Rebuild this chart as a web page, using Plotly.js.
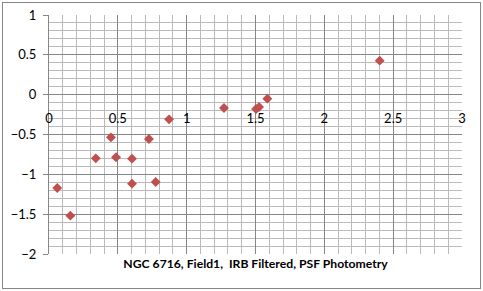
<!DOCTYPE html>
<html>
<head>
<meta charset="utf-8">
<script src="https://cdn.plot.ly/plotly-3.0.1.min.js"></script>
<style>
html,body{margin:0;padding:0;background:#fff;}
#wrap{position:relative;width:483px;height:291px;}
#chart{position:absolute;left:0;top:0;width:483px;height:291px;}
#frame{position:absolute;left:2px;top:2px;width:477px;height:285px;border:1px solid #868686;pointer-events:none;}
</style>
</head>
<body>
<div id="wrap"><div id="chart"></div><div id="frame"></div></div>
<script>
const xVals = [0.06, 0.155, 0.34, 0.45, 0.487, 0.603, 0.603, 0.726, 0.775, 0.872, 1.271, 1.504, 1.526, 1.586, 2.402];
const yVals = [-1.171, -1.519, -0.799, -0.536, -0.786, -0.803, -1.117, -0.557, -1.096, -0.31, -0.167, -0.18, -0.155, -0.05, 0.427];
const titleText = 'NGC 6716, Field1,  IRB Filtered, PSF Photometry';

const fnt = 'Lato, "Open Sans", sans-serif';
const trace = {
  x: xVals, y: yVals, type: 'scatter', mode: 'markers',
  marker: {symbol: 'diamond', size: 7.6, color: '#C0504D', line: {width: 0}},
  hoverinfo: 'x+y'
};
const layout = {
  width: 483, height: 291,
  margin: {l: 49, r: 21, t: 15, b: 37, pad: 0},
  paper_bgcolor: '#ffffff', plot_bgcolor: '#ffffff',
  showlegend: false,
  font: {family: fnt, size: 13, color: '#000'},
  title: {text: '<b>' + titleText + '</b>', font: {family: fnt, size: 12.2, color: '#000'},
          x: 0.5, xref: 'paper', xanchor: 'center', y: 1 - 264/291, yref: 'container', yanchor: 'middle'},
  xaxis: {
    range: [0, 3], dtick: 0.5, tick0: 0, anchor: 'free', position: 2/3,
    showgrid: true, gridcolor: '#868686', gridwidth: 1,
    minor: {dtick: 0.1, showgrid: true, gridcolor: '#BABABA', gridwidth: 1},
    zeroline: false, showline: false, ticks: '', ticklabelstandoff: 14,
    tickfont: {family: fnt, size: 13, color: '#000'}, fixedrange: true
  },
  yaxis: {
    range: [-2, 1], dtick: 0.5, tick0: 0,
    showgrid: true, gridcolor: '#868686', gridwidth: 1,
    minor: {dtick: 0.1, showgrid: true, gridcolor: '#BABABA', gridwidth: 1},
    zeroline: false, showline: true, linecolor: '#868686', linewidth: 1,
    ticks: 'outside', ticklen: 5, tickcolor: '#868686', ticklabelstandoff: 4,
    tickfont: {family: fnt, size: 13, color: '#000'}, fixedrange: true
  }
};
Plotly.newPlot('chart', [trace], layout, {displayModeBar: false, staticPlot: true});
</script>
</body>
</html>
